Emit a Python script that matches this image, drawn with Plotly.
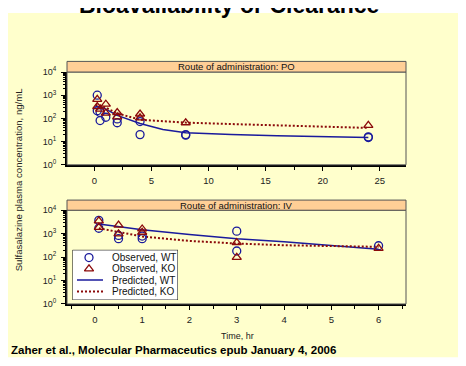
import plotly.graph_objects as go

# The page body has an 8px margin, so the figure is drawn at (8, 8) in the window.
OX, OY = 8, 8
FW, FH = 458, 358
def xp(px): return (px - OX) / FW
def yp(py): return 1 - (py - OY) / FH

# ---------------- data ----------------
# PO route
po_obs_wt_t = [0.25, 0.25, 0.5, 0.5, 1, 2, 2, 4, 4, 8, 8, 24, 24]
po_obs_wt_c = [1000, 214, 81, 182, 112, 95, 65, 20, 73, 19, 20, 15, 16]
po_obs_ko_t = [0.25, 0.25, 0.5, 1, 1, 2, 2, 4, 4, 8, 24]
po_obs_ko_c = [660, 325, 250, 410, 170, 180, 117, 155, 105, 65, 50]
po_pred_t = [0.1, 0.5, 1, 2, 4, 6, 8, 12, 16, 20, 24]
po_pred_wt = [330, 320, 250, 135, 60, 33, 24, 20, 18, 16.5, 15]
po_pred_ko = [380, 360, 290, 165, 88, 74, 66, 57, 50, 44, 39]

# IV route
iv_obs_wt_t = [0.083, 0.083, 0.5, 0.5, 1, 1, 3, 3, 6]
iv_obs_wt_c = [3700, 1700, 840, 610, 610, 790, 1280, 182, 305]
iv_obs_ko_t = [0.083, 0.083, 0.5, 0.5, 1, 1, 3, 3, 6]
iv_obs_ko_c = [3500, 1860, 2330, 980, 1590, 1150, 420, 97, 235]
iv_pred_t = [0.083, 0.5, 1, 2, 3, 4, 5, 6]
iv_pred_wt = [2600, 2050, 1480, 920, 610, 450, 305, 215]
iv_pred_ko = [1700, 1200, 760, 490, 380, 320, 295, 275]

y_tickvals = [1, 10, 100, 1000, 10000]
y_ticktext = ["10<sup>0</sup>", "10<sup>1</sup>", "10<sup>2</sup>", "10<sup>3</sup>", "10<sup>4</sup>"]
po_xticks = [0, 5, 10, 15, 20, 25]
iv_xticks = [0, 1, 2, 3, 4, 5, 6]

title_text = "Bioavailability or Clearance"
strip_po = "Route of administration: PO"
strip_iv = "Route of administration: IV"
ytitle = "Sulfasalazine plasma concentration, ng/mL"
xtitle = "Time, hr"
footer = "Zaher et al., Molecular Pharmaceutics epub January 4, 2006"
legend_names = ["Observed, WT", "Observed, KO", "Predicted, WT", "Predicted, KO"]

BLUE = "#1a1a9c"
RED = "#8b0a0a"
FONT = "Arial, Liberation Sans, sans-serif"
DOT = "2px,2px"

# panel geometry in window pixels
PX0, PX1 = 67, 406
P1_STRIP, P1_TOP, P1_BOT = 56, 67, 163
P2_STRIP, P2_TOP, P2_BOT = 199.5, 210, 307

fig = go.Figure()

def add_panel(xa, ya, ot1, oc1, ot2, oc2, pt, pw, pk):
    fig.add_trace(go.Scatter(x=pt, y=pw, mode="lines", xaxis=xa, yaxis=ya,
                             line=dict(color=BLUE, width=1.5), showlegend=False))
    fig.add_trace(go.Scatter(x=pt, y=pk, mode="lines", xaxis=xa, yaxis=ya,
                             line=dict(color=RED, width=2, dash=DOT), showlegend=False))
    fig.add_trace(go.Scatter(x=ot1, y=oc1, mode="markers", xaxis=xa, yaxis=ya,
                             marker=dict(symbol="circle-open", size=8, color=BLUE,
                                         line=dict(width=1.3, color=BLUE)),
                             showlegend=False))
    fig.add_trace(go.Scatter(x=ot2, y=oc2, mode="markers", xaxis=xa, yaxis=ya,
                             marker=dict(symbol="triangle-up-open", size=8, color=RED,
                                         line=dict(width=1.3, color=RED)),
                             showlegend=False))

add_panel("x", "y", po_obs_wt_t, po_obs_wt_c, po_obs_ko_t, po_obs_ko_c,
          po_pred_t, po_pred_wt, po_pred_ko)
add_panel("x2", "y2", iv_obs_wt_t, iv_obs_wt_c, iv_obs_ko_t, iv_obs_ko_c,
          iv_pred_t, iv_pred_wt, iv_pred_ko)

# ---- manual legend in its own (hidden) axis pair, units = window pixels ----
LX0, LX1, LY0, LY1 = 72.5, 178, 251, 303
rows = [259, 270.7, 282.3, 294]
fig.add_trace(go.Scatter(x=[89], y=[rows[0]], mode="markers", xaxis="x3", yaxis="y3",
                         marker=dict(symbol="circle-open", size=8, color=BLUE,
                                     line=dict(width=1.3, color=BLUE)), showlegend=False))
fig.add_trace(go.Scatter(x=[89], y=[rows[1]], mode="markers", xaxis="x3", yaxis="y3",
                         marker=dict(symbol="triangle-up-open", size=8, color=RED,
                                     line=dict(width=1.3, color=RED)), showlegend=False))
fig.add_trace(go.Scatter(x=[77, 103], y=[rows[2], rows[2]], mode="lines", xaxis="x3", yaxis="y3",
                         line=dict(color=BLUE, width=1.5), showlegend=False))
fig.add_trace(go.Scatter(x=[77, 103], y=[rows[3], rows[3]], mode="lines", xaxis="x3", yaxis="y3",
                         line=dict(color=RED, width=2, dash=DOT), showlegend=False))

minor_log = [m * 10 ** d for d in range(4) for m in range(2, 10)]

def xaxis_cfg(rng, ticks, minor):
    return dict(domain=[xp(PX0), xp(PX1)], range=rng, tickvals=ticks,
                ticks="outside", ticklen=4, tickcolor="black", tickwidth=1,
                ticklabelstandoff=2,
                minor=dict(tickvals=minor, ticks="outside", ticklen=3, tickcolor="black"),
                showline=True, linecolor="black", linewidth=2, showgrid=False,
                zeroline=False, tickfont=dict(size=9.5, color="#222", family=FONT),
                fixedrange=True)

def yaxis_cfg(top, bot):
    return dict(domain=[yp(bot), yp(top)], type="log", range=[0, 4],
                tickvals=y_tickvals, ticktext=y_ticktext,
                ticks="outside", ticklen=4, tickcolor="black", tickwidth=1,
                ticklabelstandoff=3,
                minor=dict(tickvals=minor_log, ticks="outside", ticklen=2, tickcolor="black"),
                showline=True, linecolor="black", linewidth=2, showgrid=False,
                zeroline=False, tickfont=dict(size=9, color="#222", family=FONT),
                fixedrange=True)

po_minor = [2.5, 7.5, 12.5, 17.5, 22.5]
iv_minor = [-0.5, 0.5, 1.5, 2.5, 3.5, 4.5, 5.5, 6.5]

shapes = [
    dict(type="rect", xref="paper", yref="paper", x0=xp(7), x1=1, y0=yp(362), y1=yp(6),
         fillcolor="#FFFFCC", line=dict(width=0), layer="below"),
    # panel borders (top/right grey)
    dict(type="rect", xref="paper", yref="paper", x0=xp(PX0), x1=xp(PX1), y0=yp(P1_BOT), y1=yp(P1_TOP),
         line=dict(color="#555", width=1)),
    dict(type="rect", xref="paper", yref="paper", x0=xp(PX0), x1=xp(PX1), y0=yp(P2_BOT), y1=yp(P2_TOP),
         line=dict(color="#555", width=1)),
    # strips
    dict(type="rect", xref="paper", yref="paper", x0=xp(PX0), x1=xp(PX1), y0=yp(P1_TOP), y1=yp(P1_STRIP),
         fillcolor="#FFCF96", line=dict(color="#555", width=1)),
    dict(type="rect", xref="paper", yref="paper", x0=xp(PX0), x1=xp(PX1), y0=yp(P2_TOP), y1=yp(P2_STRIP),
         fillcolor="#FFCF96", line=dict(color="#555", width=1)),
    # legend box (drawn in the legend subplot, above the IV panel's marks)
    dict(type="rect", xref="x3", yref="y3", x0=LX0, x1=LX1, y0=LY0, y1=LY1,
         fillcolor="white", line=dict(color="black", width=1), layer="below"),
]

annotations = [
    dict(text="<b>" + title_text + "</b>", xref="paper", yref="paper", x=xp(228.5), y=yp(-2),
         xanchor="center", yanchor="middle", showarrow=False,
         font=dict(size=23, color="black", family=FONT)),
    dict(text=strip_po, xref="paper", yref="paper", x=xp(236), y=yp((P1_STRIP + P1_TOP) / 2),
         xanchor="center", yanchor="middle", showarrow=False,
         font=dict(size=9.5, color="#111", family=FONT)),
    dict(text=strip_iv, xref="paper", yref="paper", x=xp(236), y=yp((P2_STRIP + P2_TOP) / 2),
         xanchor="center", yanchor="middle", showarrow=False,
         font=dict(size=9.5, color="#111", family=FONT)),
    dict(text=ytitle, xref="paper", yref="paper", x=xp(18), y=yp(178),
         xanchor="center", yanchor="middle", showarrow=False, textangle=-90,
         font=dict(size=9.6, color="#222", family=FONT)),
    dict(text=xtitle, xref="paper", yref="paper", x=xp(237), y=yp(340),
         xanchor="center", yanchor="middle", showarrow=False,
         font=dict(size=9, color="#222", family=FONT)),
    dict(text="<b>" + footer + "</b>", xref="paper", yref="paper", x=xp(8.5), y=yp(355),
         xanchor="left", yanchor="middle", showarrow=False,
         font=dict(size=11.5, color="black", family=FONT)),
]
for name, ry in zip(legend_names, rows):
    annotations.append(dict(text=name, xref="x3", yref="y3", x=110, y=ry,
                            xanchor="left", yanchor="middle", showarrow=False,
                            font=dict(size=10, color="#111", family=FONT)))

fig.update_layout(
    width=FW, height=FH, margin=dict(l=0, r=0, t=0, b=0, pad=0),
    paper_bgcolor="white", plot_bgcolor="#FFFFCC",
    xaxis=xaxis_cfg([-2.4, 27.3], po_xticks, po_minor) | dict(anchor="y"),
    yaxis=yaxis_cfg(P1_TOP, P1_BOT) | dict(anchor="x"),
    xaxis2=xaxis_cfg([-0.59, 6.58], iv_xticks, iv_minor) | dict(anchor="y2"),
    yaxis2=yaxis_cfg(P2_TOP, P2_BOT) | dict(anchor="x2"),
    xaxis3=dict(domain=[xp(LX0), xp(LX1)], range=[LX0, LX1], anchor="y3", visible=False,
                fixedrange=True),
    yaxis3=dict(domain=[yp(LY1), yp(LY0)], range=[LY1, LY0], anchor="x3", visible=False,
                fixedrange=True),
    shapes=shapes, annotations=annotations,
    showlegend=False,
    font=dict(family=FONT),
)

fig.write_html("out.html")
